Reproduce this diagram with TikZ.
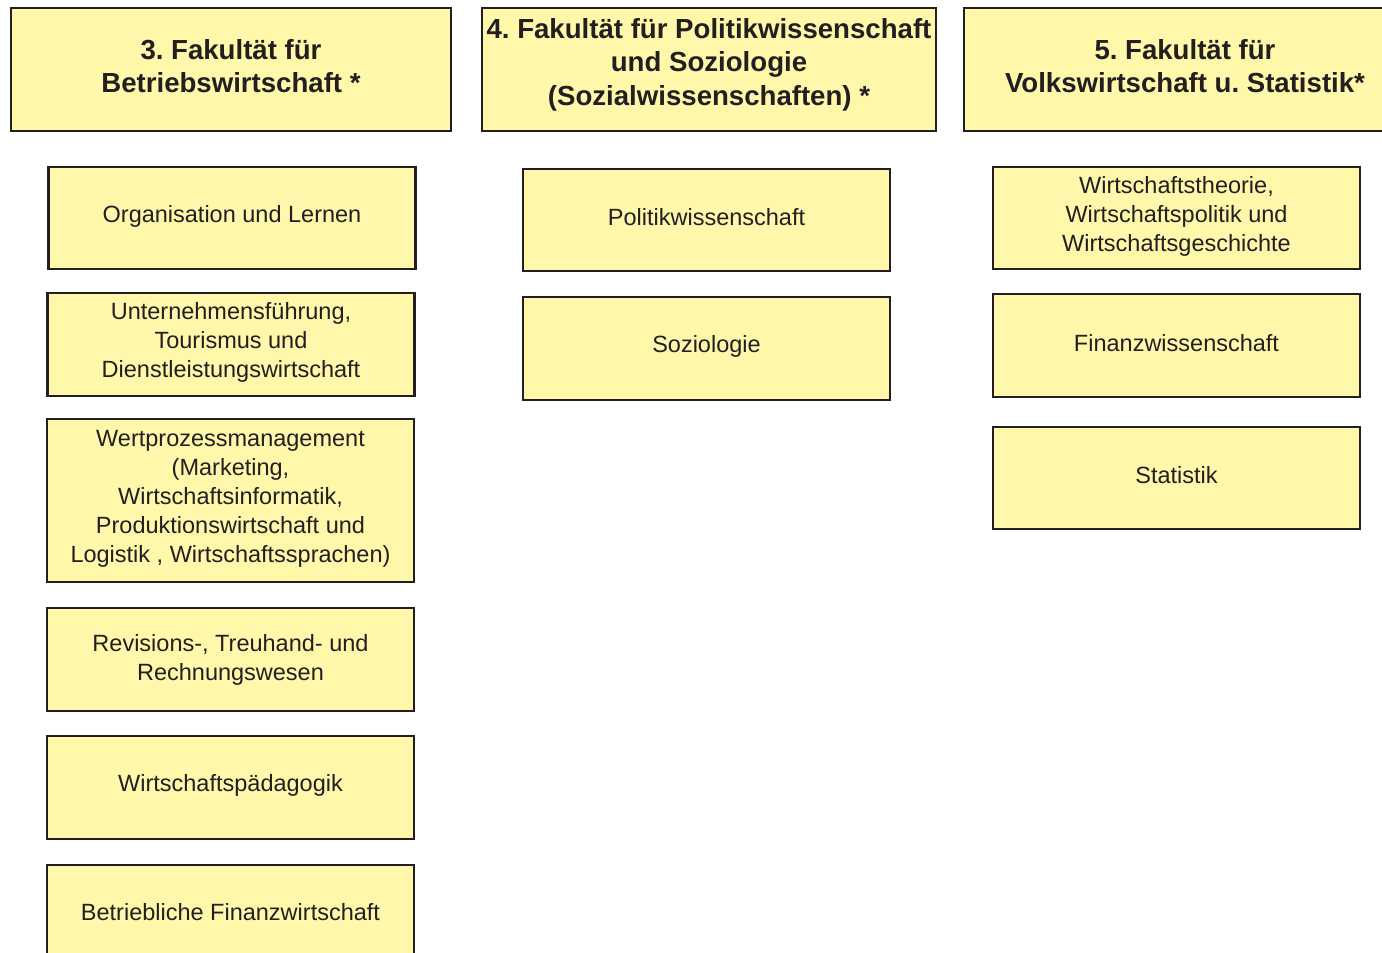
\documentclass[tikz,border=0pt]{standalone}
\usepackage{fontspec}
\setmainfont{Liberation Sans}
\frenchspacing
\definecolor{boxfill}{RGB}{255,247,170}
\definecolor{boxline}{RGB}{35,31,32}
\tikzset{
  unit/.style={draw=boxline, line width=2.4pt, fill=boxfill, inner sep=0pt, align=center,
    text=boxline, font=\fontsize{23.5}{29}\selectfont},
  fac/.style={unit, minimum height=123pt, text depth=7pt, font=\fontsize{27.6}{33.5}\selectfont\bfseries},
  dept/.style={unit, minimum width=367pt, minimum height=102.5pt, text depth=9pt}
}
\begin{document}
\begin{tikzpicture}[x=1pt,y=-1pt]
\useasboundingbox (0,0) rectangle (1382,953);
\clip (0,0) rectangle (1382,953);
% faculties
\node[fac, minimum width=440pt] (h1) at (231,69.5) {3. Fakultät für\\Betriebswirtschaft *};
\node[fac, minimum width=454pt, text depth=16pt] (h2) at (709,69.5) {4. Fakultät für Politikwissenschaft\\und Soziologie\\(Sozialwissenschaften) *};
\node[fac, minimum width=442pt] (h3) at (1185,69.5) {5. Fakultät für\\Volkswirtschaft u. Statistik*};
% left column
\node[dept] (l1) at (232,218) {Organisation und Lernen};
\node[dept] (l2) at (231,344.5) {Unternehmensführung,\\Tourismus und\\Dienstleistungswirtschaft};
\node[dept, minimum height=163pt] (l3) at (230.5,500.5) {Wertprozessmanagement\\(Marketing,\\Wirtschaftsinformatik,\\Produktionswirtschaft und\\Logistik , Wirtschaftssprachen)};
\node[dept, text depth=5pt] (l4) at (230.5,659.5) {Revisions-, Treuhand- und\\Rechnungswesen};
\node[dept] (l5) at (230.5,787.5) {Wirtschaftspädagogik};
\node[dept] (l6) at (230.5,916.5) {Betriebliche Finanzwirtschaft};
% middle column
\node[dept, text depth=6pt] (m1) at (706.5,220) {Politikwissenschaft};
\node[dept] (m2) at (706.5,348.5) {Soziologie};
% right column
\node[dept] (r1) at (1176.5,218) {Wirtschaftstheorie,\\Wirtschaftspolitik und\\Wirtschaftsgeschichte};
\node[dept, text depth=6pt] (r2) at (1176.5,345.5) {Finanzwissenschaft};
\node[dept, text depth=6pt] (r3) at (1176.5,478) {Statistik};
\end{tikzpicture}
\end{document}
